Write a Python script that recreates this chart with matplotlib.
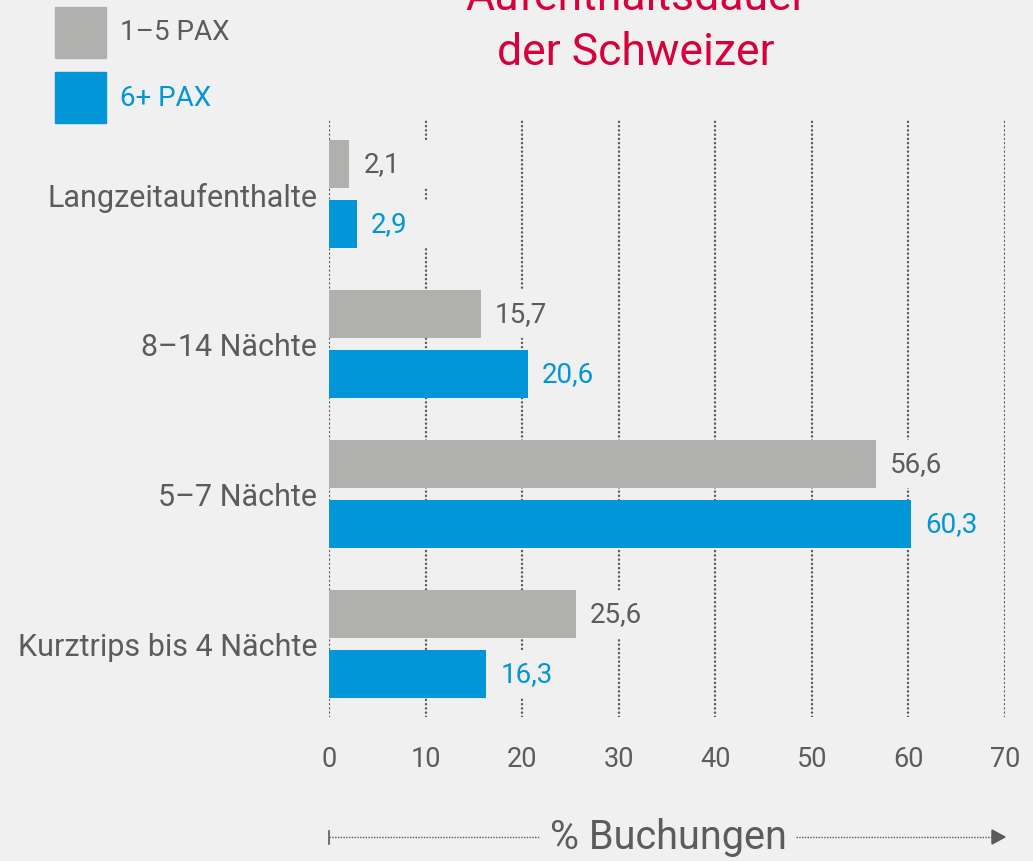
import matplotlib
matplotlib.use("Agg")
import matplotlib.pyplot as plt
from matplotlib.lines import Line2D
from matplotlib.patches import Polygon
import numpy as np

# data
categories = ["Langzeitaufenthalte", "8–14 Nächte", "5–7 Nächte", "Kurztrips bis 4 Nächte"]
pax_small = [2.1, 15.7, 56.6, 25.6]   # 1–5 PAX
pax_large = [2.9, 20.6, 60.3, 16.3]   # 6+ PAX
series_names = ["1–5 PAX", "6+ PAX"]
x_ticks = [0, 10, 20, 30, 40, 50, 60, 70]

BG = "#f0f0f0"
GREY = "#b0b0ae"
BLUE = "#0096d7"
RED = "#d5003c"
TXT = "#5c5c5c"
GRID = "#5a5a5a"

plt.rcParams["font.family"] = ["Roboto", "DejaVu Sans"]

W, H = 1033, 862
fig = plt.figure(figsize=(W / 100, H / 100), dpi=100, facecolor=BG)

def fx(px):
    return px / W

def fy(py):
    return 1 - py / H

ax = fig.add_axes([fx(329), fy(718), fx(1005) - fx(329), fy(120) - fy(718)])
ax.set_facecolor(BG)

y = np.arange(len(categories))
off = 0.2
bh = 0.32

# masks behind value labels hide the dotted grid there
ax.barh(y - off, [8.5] * 4, left=pax_small, height=bh, color=BG, zorder=1.5)
ax.barh(y + off, [8.5] * 4, left=pax_large, height=bh, color=BG, zorder=1.5)
ax.barh(y - off, pax_small, height=bh, color=GREY, zorder=2)
ax.barh(y + off, pax_large, height=bh, color=BLUE, zorder=2)

for i in range(len(categories)):
    ax.text(pax_small[i] + 1.45, y[i] - off, f"{pax_small[i]:.1f}".replace(".", ","),
            va="center", ha="left", fontsize=20, color=TXT, zorder=3)
    ax.text(pax_large[i] + 1.45, y[i] + off, f"{pax_large[i]:.1f}".replace(".", ","),
            va="center", ha="left", fontsize=20, color=BLUE, zorder=3)

ax.set_xlim(0, 70)
ax.set_ylim(-0.5 + 598 / 150, -0.5)
ax.set_xticks(x_ticks)
ax.set_xticklabels([str(t) for t in x_ticks], fontsize=19.5, color=TXT)
ax.set_yticks(y)
ax.set_yticklabels(categories, fontsize=22, color=TXT)
ax.tick_params(axis="x", length=0, pad=20)
ax.tick_params(axis="y", length=0, pad=8.5)
for s in ax.spines.values():
    s.set_visible(False)
ax.set_axisbelow(True)
ax.grid(axis="x", color=GRID, linewidth=1.7, linestyle=(0, (0.1, 1.7)),
        dash_capstyle="round")

# title, first line cut off at the top
fig.text(fx(636), fy(10), "Aufenthaltsdauer", ha="center", va="baseline",
         fontsize=32, color=RED)
fig.text(fx(636), fy(65), "der Schweizer", ha="center", va="baseline",
         fontsize=32, color=RED)

# legend
for k, (name, col, tcol) in enumerate(zip(series_names, [GREY, BLUE], [TXT, BLUE])):
    top = 8 + 65 * k
    fig.patches.append(plt.Rectangle((fx(55), fy(top + 51)), fx(51), 51 / H,
                                     transform=fig.transFigure, color=col))
    fig.text(fx(120), fy(top + 25), name, ha="left", va="center",
             fontsize=20, color=tcol)

# x axis caption with dotted arrow
fig.text(fx(668), fy(838), "% Buchungen", ha="center", va="center",
         fontsize=28.5, color=TXT)
for x0, x1 in [(329, 540), (796, 992)]:
    fig.add_artist(Line2D([fx(x0), fx(x1)], [fy(838), fy(838)], color=GRID,
                          linewidth=1, linestyle=(0, (1, 1))))
fig.add_artist(Line2D([fx(329), fx(329)], [fy(832), fy(845)], color=GRID, linewidth=1.2))
fig.add_artist(Polygon([[fx(992), fy(831)], [fx(992), fy(845)], [fx(1005), fy(838)]],
                       closed=True, color=GRID, transform=fig.transFigure))

fig.savefig("out.png", dpi=100, facecolor=BG)
